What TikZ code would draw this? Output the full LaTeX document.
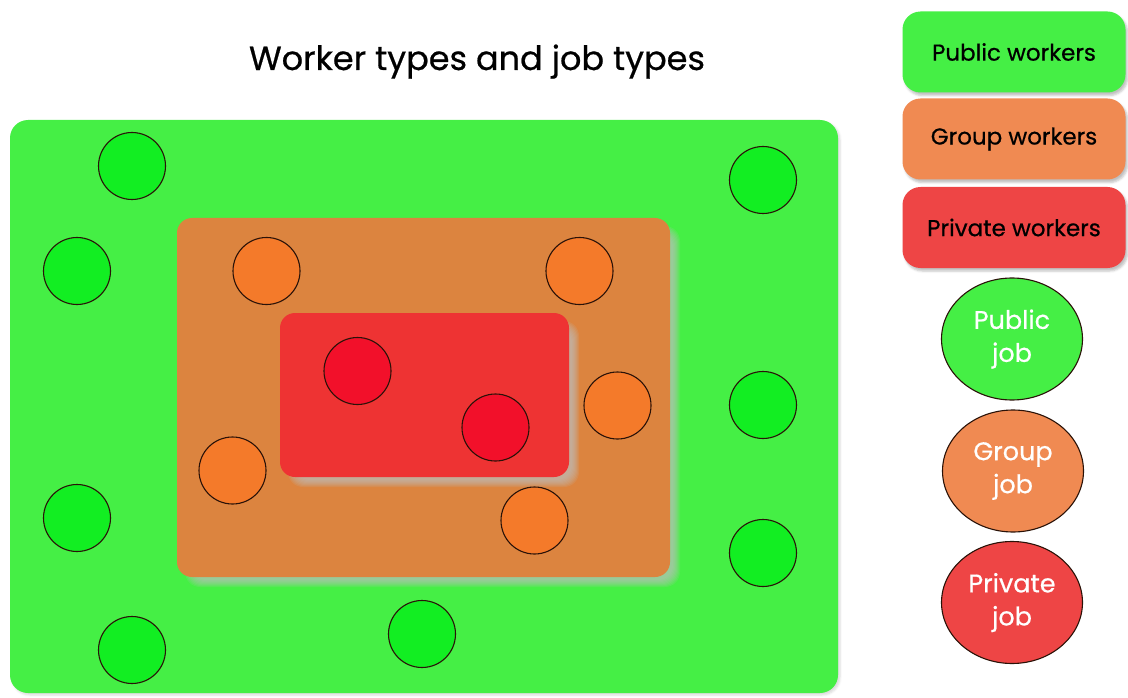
\documentclass[tikz,border=0pt]{standalone}
\usepackage{fontspec}
\setmainfont{Poppins}[FakeBold=0.6]
\usetikzlibrary{shadows.blur,shapes.geometric}

\definecolor{publicarea}{HTML}{45EF45}
\definecolor{grouparea}{HTML}{DC843F}
\definecolor{privatearea}{HTML}{EE3333}
\definecolor{publicjob}{HTML}{12EE22}
\definecolor{groupjob}{HTML}{F47A2A}
\definecolor{privatejob}{HTML}{F2102A}
\definecolor{grouplegend}{HTML}{F08A52}
\definecolor{privatelegend}{HTML}{EE4545}
\definecolor{jobline}{HTML}{2A1208}

\tikzset{
  area/.style={rounded corners=18pt, inner sep=0pt},
  glow/.style={fill=black!25, opacity=0.14, rounded corners=15pt},
  job/.style={circle, draw=jobline, line width=1.1pt, minimum size=67pt, inner sep=0pt},
  legendbox/.style={rounded corners=18pt, minimum width=223pt, minimum height=81pt,
    font=\fontsize{23}{26}\selectfont, blur shadow={shadow xshift=2pt, shadow yshift=-3pt, shadow opacity=25}},
  legendjob/.style={ellipse, draw=jobline, line width=1.1pt, minimum width=141pt, minimum height=122pt,
    inner sep=0pt, text=white, align=center, font=\fontsize{25.5}{33}\selectfont}
}

\begin{document}
\begin{tikzpicture}[x=1pt,y=-1pt]
  \useasboundingbox (0,0) rectangle (1128,698);

  % title
  \node[anchor=base, font=\fontsize{33.5}{38}\selectfont] (title) at (477,70) {Worker types and job types};

  % nested areas
  \node[area, fill=publicarea, minimum width=828, minimum height=573,
    blur shadow={shadow xshift=2pt, shadow yshift=-2pt, shadow opacity=15}] (publicarea) at (424,406.5) {};
  \foreach \i in {0,...,7}
    \fill[glow] (185+\i,226+\i) rectangle (680-\i,587-\i);
  \node[area, fill=grouparea, minimum width=493, minimum height=359, rounded corners=15pt] (grouparea) at (423.5,397.5) {};
  \foreach \i in {0,...,7}
    \fill[glow] (288+\i,321+\i) rectangle (579-\i,487-\i);
  \node[area, fill=privatearea, minimum width=289, minimum height=164, rounded corners=15pt] (privatearea) at (424.5,395) {};

  % public jobs
  \node[job, fill=publicjob] (pub1) at (132,166) {};
  \node[job, fill=publicjob] (pub2) at (763,180) {};
  \node[job, fill=publicjob] (pub3) at (77,271) {};
  \node[job, fill=publicjob] (pub4) at (763,405) {};
  \node[job, fill=publicjob] (pub5) at (77,518) {};
  \node[job, fill=publicjob] (pub6) at (763,553) {};
  \node[job, fill=publicjob] (pub7) at (132,650) {};
  \node[job, fill=publicjob] (pub8) at (422,634) {};

  % group jobs
  \node[job, fill=groupjob] (grp1) at (266.5,271) {};
  \node[job, fill=groupjob] (grp2) at (579.5,271) {};
  \node[job, fill=groupjob] (grp3) at (617.5,405.5) {};
  \node[job, fill=groupjob] (grp4) at (232.5,470.5) {};
  \node[job, fill=groupjob] (grp5) at (534.5,520.5) {};

  % private jobs
  \node[job, fill=privatejob] (prv1) at (357.5,371) {};
  \node[job, fill=privatejob] (prv2) at (495.5,427.5) {};

  % legend
  \node[legendbox, fill=publicarea] (legpublic) at (1014,52) {Public workers};
  \node[legendbox, fill=grouplegend] (leggroup) at (1014,139) {Group workers};
  \node[legendbox, fill=privatelegend] (legprivate) at (1014,227.5) {Private workers};

  \node[legendjob, fill=publicarea] (jobpublic) at (1012,339) {Public\\job};
  \node[legendjob, fill=grouplegend] (jobgroup) at (1013,471) {Group\\job};
  \node[legendjob, fill=privatelegend] (jobprivate) at (1012,602.5) {Private\\job};
\end{tikzpicture}
\end{document}
